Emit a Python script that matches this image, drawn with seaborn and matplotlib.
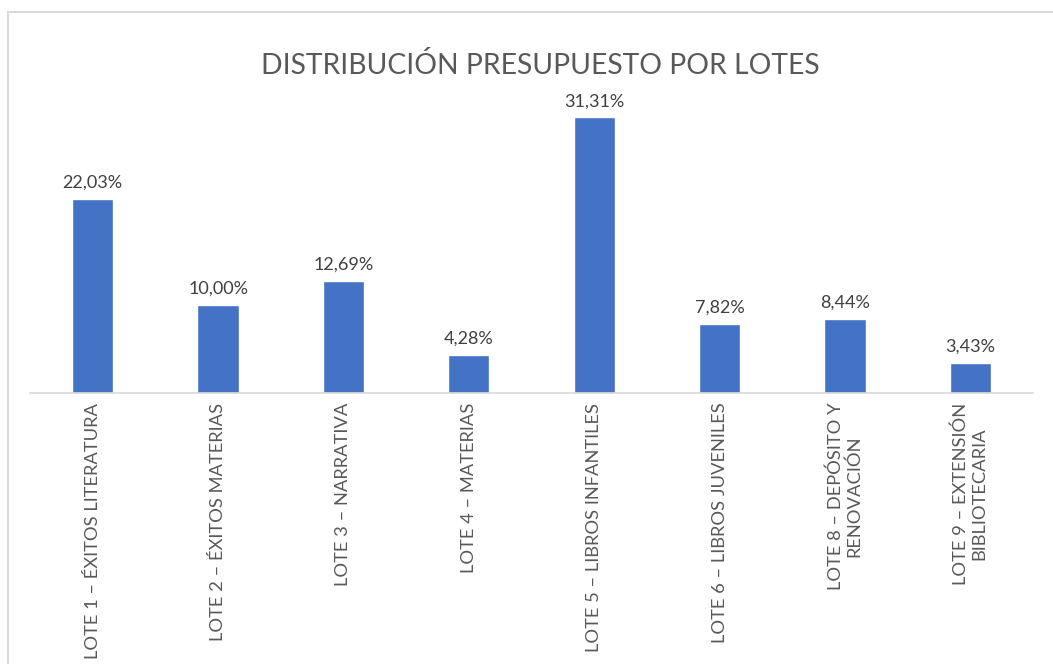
import seaborn as sns
import matplotlib.pyplot as plt
from matplotlib.lines import Line2D
import numpy as np
import pandas as pd

categories = [
    'LOTE 1 – ÉXITOS LITERATURA',
    'LOTE 2 – ÉXITOS MATERIAS',
    'LOTE 3 – NARRATIVA',
    'LOTE 4 – MATERIAS',
    'LOTE 5 – LIBROS INFANTILES',
    'LOTE 6 – LIBROS JUVENILES',
    'LOTE 8 – DEPÓSITO Y\nRENOVACIÓN',
    'LOTE 9 – EXTENSIÓN\nBIBLIOTECARIA',
]
percentages = [22.03, 10.00, 12.69, 4.28, 31.31, 7.82, 8.44, 3.43]
title = 'DISTRIBUCIÓN PRESUPUESTO POR LOTES'

sns.set_style('white')
plt.rcParams['font.family'] = ['Lato', 'DejaVu Sans']

df = pd.DataFrame({'lote': categories, 'pct': percentages})

fig = plt.figure(figsize=(10.53, 6.64), dpi=100)
ax = fig.add_axes([30 / 1053, 1 - 393 / 664, (1033 - 30) / 1053, (393 - 85) / 664])

sns.barplot(data=df, x='lote', y='pct', color='#4472C4', width=0.33,
            saturation=1, ax=ax)
ax.set_ylim(0, 35)
ax.set_xlim(-0.5, len(categories) - 0.5)

# data labels with comma decimals
labels = ['{:.2f}%'.format(v).replace('.', ',') for v in percentages]
ax.bar_label(ax.containers[0], labels=labels, padding=6, fontsize=13,
             color='#404040')

# axes styling, Excel-like
for side in ['top', 'right', 'left']:
    ax.spines[side].set_visible(False)
ax.spines['bottom'].set_color('#D9D9D9')
ax.spines['bottom'].set_linewidth(1.2)
ax.set_yticks([])
ax.set_xlabel('')
ax.set_ylabel('')
ax.set_xticks(np.arange(len(categories)))
ax.set_xticklabels(categories, rotation=90, fontsize=13.2, color='#595959',
                   ha='center', va='top', multialignment='center')
ax.tick_params(axis='x', which='major', length=0, pad=7)
ax.set_xticks(np.arange(-0.5, len(categories)), minor=True)
ax.tick_params(axis='x', which='minor', length=5, color='#D9D9D9', width=1.2)

fig.text(540 / 1053, 1 - 65 / 664, title, ha='center', va='center',
         fontsize=20.3, color='#595959')

# chart border (top and left edges visible in the crop)
fig.add_artist(Line2D([8 / 1053, 8 / 1053], [0, 1 - 12 / 664],
                      transform=fig.transFigure, color='#D9D9D9', lw=1.5))
fig.add_artist(Line2D([8 / 1053, 1], [1 - 12 / 664, 1 - 12 / 664],
                      transform=fig.transFigure, color='#D9D9D9', lw=1.5))

plt.savefig('out.png', dpi=100)
plt.close()
